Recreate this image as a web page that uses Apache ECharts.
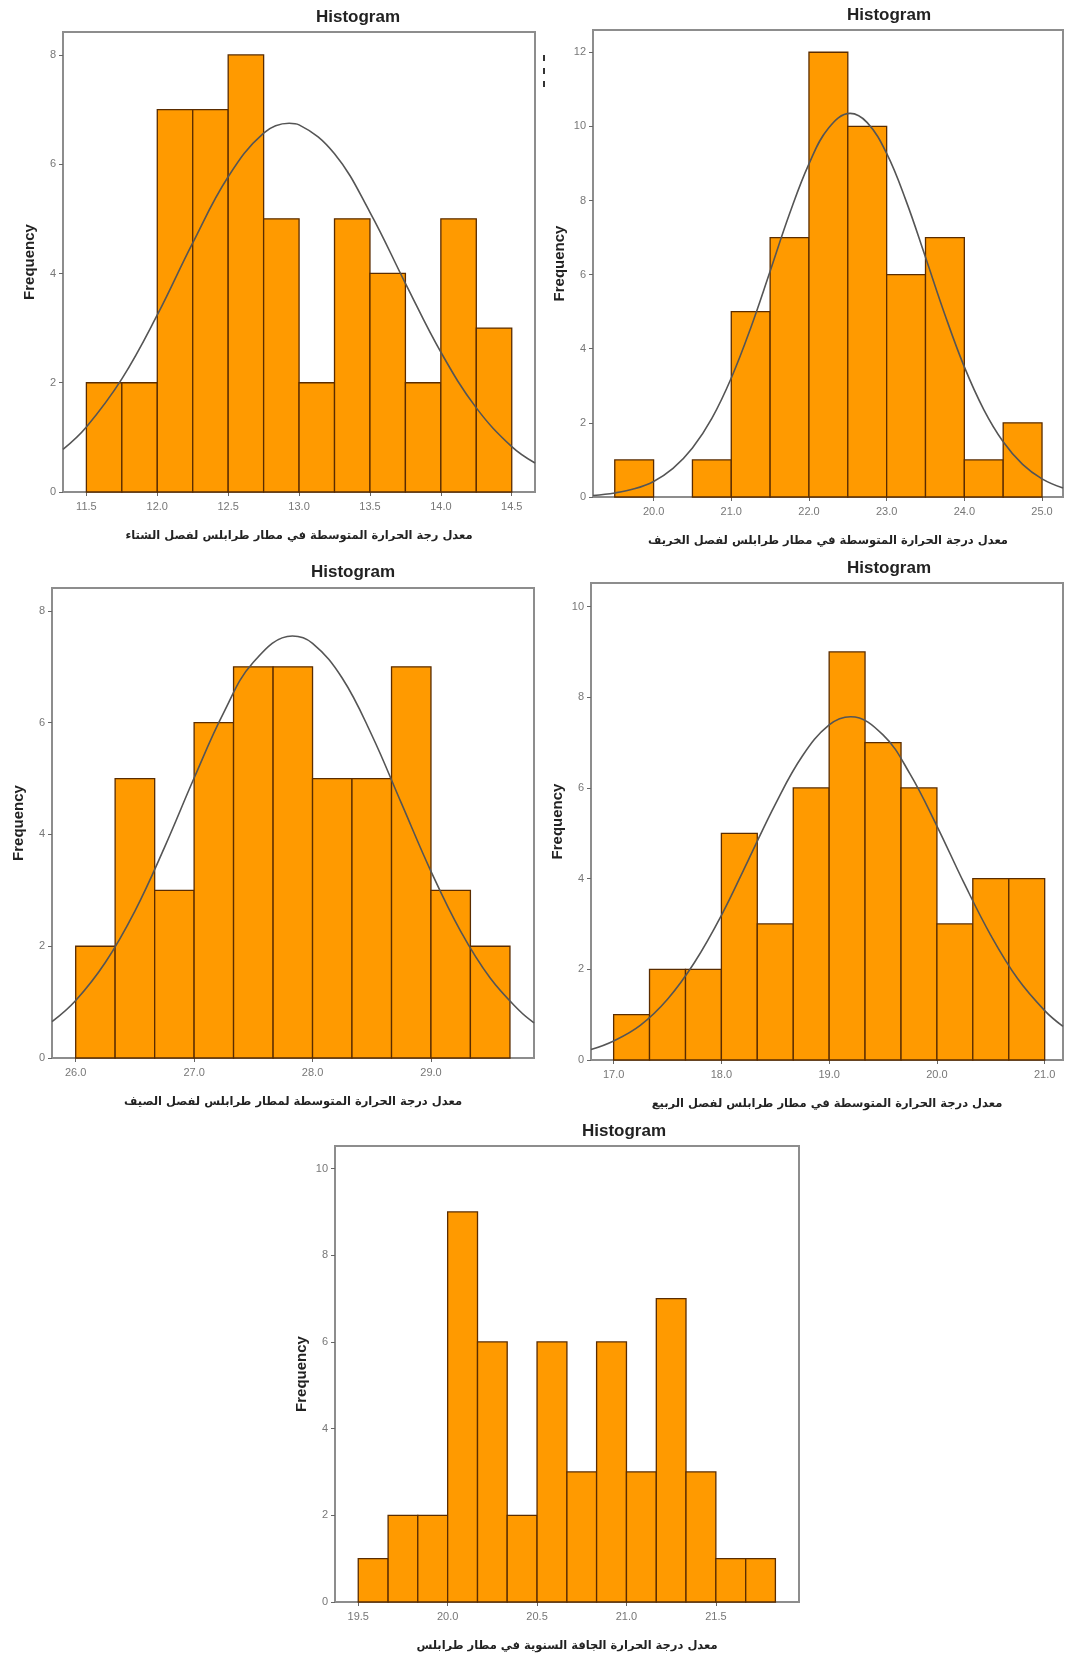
<!DOCTYPE html>
<html>
<head>
<meta charset="utf-8">
<script src="https://cdn.jsdelivr.net/npm/echarts@6/dist/echarts.min.js"></script>
<style>
html,body{margin:0;padding:0;background:#fff;}
#chart{width:1065px;height:1654px;}
</style>
</head>
<body>
<div id="chart"></div>
<script>
// ---------- DATA ----------
const winterEdges = [11.5, 11.75, 12.0, 12.25, 12.5, 12.75, 13.0, 13.25, 13.5, 13.75, 14.0, 14.25, 14.5];
const winterCounts = [2, 2, 7, 7, 8, 5, 2, 5, 4, 2, 5, 3];
const winterCurve = [[11.335,0.78],[11.5,1.19],[11.75,2.07],[12.0,3.24],[12.25,4.56],[12.5,5.77],[12.75,6.57],[12.93,6.75],[13.0,6.72],[13.25,6.19],[13.5,5.12],[13.75,3.82],[14.0,2.56],[14.25,1.54],[14.5,0.83],[14.664,0.53]];
const winterXTicks = [11.5, 12.0, 12.5, 13.0, 13.5, 14.0, 14.5];
const winterYTicks = [0, 2, 4, 6, 8];

const autumnEdges = [19.5, 20.0, 20.5, 21.0, 21.5, 22.0, 22.5, 23.0, 23.5, 24.0, 24.5, 25.0];
const autumnCounts = [1, 0, 1, 5, 7, 12, 10, 6, 7, 1, 2];
const autumnCurve = [[19.22,0.04],[19.5,0.11],[19.75,0.22],[20.0,0.42],[20.25,0.77],[20.5,1.32],[20.75,2.12],[21.0,3.21],[21.25,4.56],[21.5,6.09],[21.75,7.64],[22.0,8.99],[22.25,9.95],[22.53,10.35],[22.75,10.10],[23.0,9.27],[23.25,7.99],[23.5,6.47],[23.75,4.92],[24.0,3.51],[24.25,2.36],[24.5,1.49],[24.75,0.88],[25.0,0.49],[25.27,0.24]];
const autumnXTicks = [20.0, 21.0, 22.0, 23.0, 24.0, 25.0];
const autumnYTicks = [0, 2, 4, 6, 8, 10, 12];

const summerEdges = [26.0, 26.333, 26.667, 27.0, 27.333, 27.667, 28.0, 28.333, 28.667, 29.0, 29.333, 29.667];
const summerCounts = [2, 5, 3, 6, 7, 7, 5, 5, 7, 3, 2];
const summerCurve = [[25.8,0.65],[26.0,1.03],[26.25,1.71],[26.5,2.63],[26.75,3.77],[27.0,5.01],[27.25,6.18],[27.5,7.08],[27.83,7.55],[28.0,7.42],[28.25,6.80],[28.5,5.78],[28.75,4.56],[29.0,3.34],[29.25,2.27],[29.5,1.43],[29.75,0.84],[29.87,0.63]];
const summerXTicks = [26.0, 27.0, 28.0, 29.0];
const summerYTicks = [0, 2, 4, 6, 8];

const springEdges = [17.0, 17.333, 17.667, 18.0, 18.333, 18.667, 19.0, 19.333, 19.667, 20.0, 20.333, 20.667, 21.0];
const springCounts = [1, 2, 2, 5, 3, 6, 9, 7, 6, 3, 4, 4];
const springCurve = [[16.79,0.23],[17.0,0.42],[17.25,0.77],[17.5,1.34],[17.75,2.15],[18.0,3.19],[18.25,4.41],[18.5,5.64],[18.75,6.70],[19.0,7.39],[19.2,7.57],[19.5,7.17],[19.75,6.31],[20.0,5.16],[20.25,3.91],[20.5,2.75],[20.75,1.79],[21.0,1.09],[21.17,0.74]];
const springXTicks = [17.0, 18.0, 19.0, 20.0, 21.0];
const springYTicks = [0, 2, 4, 6, 8, 10];

const annualEdges = [19.5, 19.667, 19.833, 20.0, 20.167, 20.333, 20.5, 20.667, 20.833, 21.0, 21.167, 21.333, 21.5, 21.667, 21.833];
const annualCounts = [1, 2, 2, 9, 6, 2, 6, 3, 6, 3, 7, 3, 1, 1];
const annualXTicks = [19.5, 20.0, 20.5, 21.0, 21.5];
const annualYTicks = [0, 2, 4, 6, 8, 10];

const titleText = 'Histogram';
const yName = 'Frequency';
const xNames = [
  'معدل رجة الحرارة المتوسطة في مطار طرابلس لفصل الشتاء',
  'معدل درجة الحرارة المتوسطة في مطار طرابلس لفصل الخريف',
  'معدل درجة الحرارة المتوسطة لمطار طرابلس لفصل الصيف',
  'معدل درجة الحرارة المتوسطة في مطار طرابلس لفصل الربيع',
  'معدل درجة الحرارة الجافة السنوية في مطار طرابلس'
];

// ---------- LAYOUT / STYLE ----------
const BAR_FILL = '#FF9A00';
const BAR_STROKE = '#5a2c00';
const FRAME = '#8d8d8d';
const CURVE = '#555555';
const LABEL = '#777777';

const panels = [
  {edges: winterEdges, counts: winterCounts, curve: winterCurve, xt: winterXTicks, yt: winterYTicks,
   grid: {left: 63, top: 32, width: 472, height: 460}, xmin: 11.335, xmax: 14.664, ymax: 8.42, title: [358, 17]},
  {edges: autumnEdges, counts: autumnCounts, curve: autumnCurve, xt: autumnXTicks, yt: autumnYTicks,
   grid: {left: 593, top: 30, width: 470, height: 467}, xmin: 19.22, xmax: 25.27, ymax: 12.6, title: [889, 15]},
  {edges: summerEdges, counts: summerCounts, curve: summerCurve, xt: summerXTicks, yt: summerYTicks,
   grid: {left: 52, top: 588, width: 482, height: 470}, xmin: 25.8, xmax: 29.87, ymax: 8.41, title: [353, 572]},
  {edges: springEdges, counts: springCounts, curve: springCurve, xt: springXTicks, yt: springYTicks,
   grid: {left: 591, top: 583, width: 472, height: 477}, xmin: 16.79, xmax: 21.17, ymax: 10.52, title: [889, 568]},
  {edges: annualEdges, counts: annualCounts, curve: null, xt: annualXTicks, yt: annualYTicks,
   grid: {left: 335, top: 1146, width: 464, height: 456}, xmin: 19.37, xmax: 21.965, ymax: 10.52, title: [624, 1131]}
];

function renderBar(params, api) {
  const x0 = api.value(0), x1 = api.value(1), c = api.value(2);
  if (!c) return null;
  const p0 = api.coord([x0, 0]);
  const p1 = api.coord([x1, c]);
  return {
    type: 'rect',
    shape: {x: p0[0], y: p1[1], width: p1[0] - p0[0], height: p0[1] - p1[1]},
    style: {fill: BAR_FILL, stroke: BAR_STROKE, lineWidth: 1.3}
  };
}

const grids = [], xAxes = [], yAxes = [], series = [], graphics = [];
panels.forEach((p, i) => {
  grids.push(Object.assign({show: true, borderColor: FRAME, borderWidth: 2, backgroundColor: 'transparent'}, p.grid));
  xAxes.push({
    gridIndex: i, type: 'value', min: p.xmin, max: p.xmax,
    axisLine: {show: true, onZero: false, lineStyle: {color: FRAME, width: 2}},
    axisTick: {show: true, customValues: p.xt, length: 4, lineStyle: {color: '#666', width: 1}},
    axisLabel: {customValues: p.xt, formatter: v => Number(v).toFixed(1), color: LABEL, fontSize: 11, margin: 9, fontFamily: 'Liberation Sans'},
    splitLine: {show: false},
    name: xNames[i], nameLocation: 'middle', nameGap: 38,
    nameTextStyle: {fontFamily: 'DejaVu Sans', fontWeight: 'bold', fontSize: 11.5, color: '#222'}
  });
  yAxes.push({
    gridIndex: i, type: 'value', min: 0, max: p.ymax,
    axisLine: {show: true, lineStyle: {color: FRAME, width: 2}},
    axisTick: {show: true, customValues: p.yt, length: 4, lineStyle: {color: '#666', width: 1}},
    axisLabel: {customValues: p.yt, color: LABEL, fontSize: 11, margin: 7, fontFamily: 'Liberation Sans'},
    splitLine: {show: false},
    name: yName, nameLocation: 'middle', nameGap: 26, nameRotate: 90,
    nameTextStyle: {fontFamily: 'Liberation Sans', fontWeight: 'bold', fontSize: 15, color: '#222'}
  });
  const barData = p.counts.map((c, k) => [p.edges[k], p.edges[k + 1], c]);
  series.push({
    type: 'custom', xAxisIndex: i, yAxisIndex: i, renderItem: renderBar,
    encode: {x: [0, 1], y: 2}, data: barData, z: 2, silent: true
  });
  if (p.curve) {
    series.push({
      type: 'line', xAxisIndex: i, yAxisIndex: i, data: p.curve, smooth: 0.4,
      showSymbol: false, symbol: 'none', lineStyle: {color: CURVE, width: 1.6}, z: 3, silent: true
    });
  }
  graphics.push({
    type: 'text', x: p.title[0], y: p.title[1],
    style: {text: titleText, font: 'bold 17px "Liberation Sans"', fill: '#222', align: 'center', verticalAlign: 'middle'}
  });
});

// small stray scan mark near top between panels
graphics.push({
  type: 'line', shape: {x1: 544, y1: 55, x2: 544, y2: 92},
  style: {stroke: '#333', lineWidth: 2, lineDash: [6, 7]}
});

const chart = echarts.init(document.getElementById('chart'), null, {renderer: 'canvas'});
chart.setOption({
  animation: false,
  backgroundColor: '#ffffff',
  grid: grids, xAxis: xAxes, yAxis: yAxes, series: series, graphic: graphics
});
</script>
</body>
</html>
